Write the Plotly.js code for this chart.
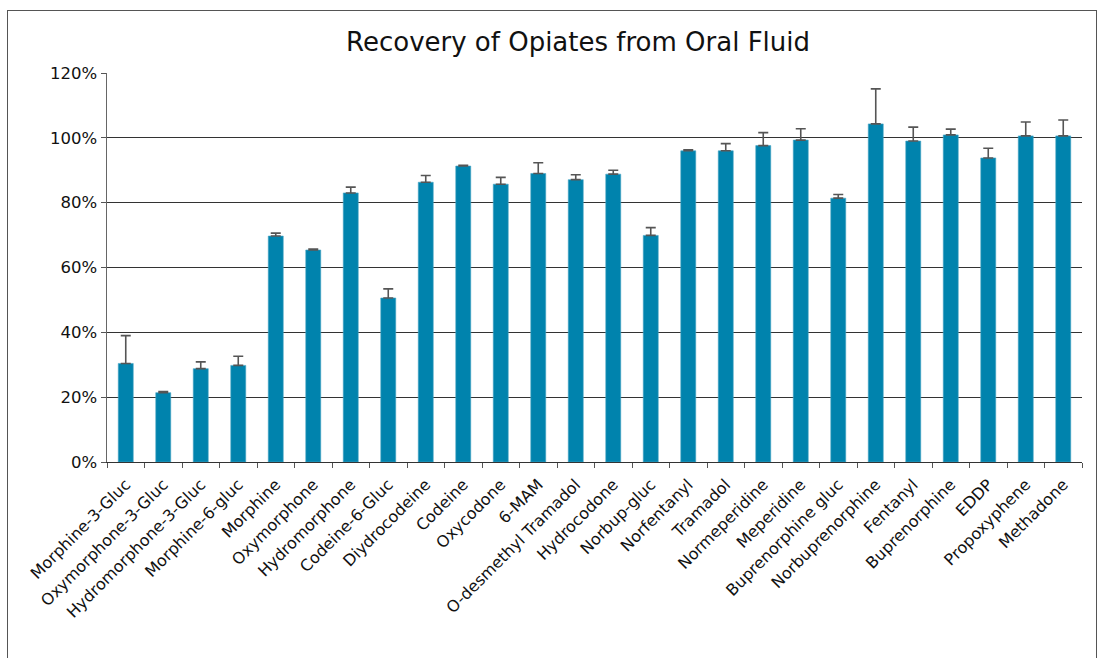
<!DOCTYPE html>
<html>
<head>
<meta charset="utf-8">
<script src="https://cdn.plot.ly/plotly-3.0.1.min.js"></script>
<style>
  html, body { margin: 0; padding: 0; background: #fff; }
  #frame { position: absolute; left: 7px; top: 10px; width: 1090px; height: 660px; border: 1px solid #555; box-sizing: border-box; }
  #chart { position: absolute; left: 0; top: 0; width: 1100px; height: 658px; }
</style>
</head>
<body>
<div id="frame"></div>
<div id="chart"></div>
<script>
const categories = [
  "Morphine-3-Gluc", "Oxymorphone-3-Gluc", "Hydromorphone-3-Gluc", "Morphine-6-gluc",
  "Morphine", "Oxymorphone", "Hydromorphone", "Codeine-6-Gluc", "Diydrocodeine",
  "Codeine", "Oxycodone", "6-MAM", "O-desmethyl Tramadol", "Hydrocodone",
  "Norbup-gluc", "Norfentanyl", "Tramadol", "Normeperidine", "Meperidine",
  "Buprenorphine gluc", "Norbuprenorphine", "Fentanyl", "Buprenorphine", "EDDP",
  "Propoxyphene", "Methadone"
];
const recovery = [
  30.4, 21.4, 28.8, 29.8, 69.7, 65.4, 83.0, 50.6, 86.3,
  91.3, 85.7, 89.0, 87.1, 88.8, 69.9, 96.0, 96.0, 97.6, 99.3,
  81.4, 104.3, 99.0, 100.9, 93.8, 100.6, 100.6
];
const errorPlus = [
  8.6, 0.3, 2.1, 2.8, 0.9, 0.3, 1.8, 2.8, 2.1,
  0.2, 2.1, 3.3, 1.5, 1.2, 2.4, 0.3, 2.2, 4.0, 3.5,
  1.1, 10.8, 4.3, 1.8, 3.0, 4.3, 4.9
];
const yTickVals = [0, 20, 40, 60, 80, 100, 120];
const yTickText = ["0%", "20%", "40%", "60%", "80%", "100%", "120%"];

const trace = {
  type: "bar",
  x: categories,
  y: recovery,
  marker: { color: "#0083ad", line: { color: "#4aa6c6", width: 0.6 } },
  width: 0.4,
  error_y: { type: "data", array: errorPlus, symmetric: false, arrayminus: errorPlus.map(() => 0),
             visible: true, color: "#555", thickness: 1.6, width: 5 },
  hoverinfo: "x+y"
};

const layout = {
  width: 1100, height: 658,
  margin: { l: 107, r: 18, t: 73, b: 196, pad: 0 },
  paper_bgcolor: "rgba(0,0,0,0)", plot_bgcolor: "#fff",
  font: { family: "DejaVu Sans, Verdana, sans-serif", color: "#111", size: 16.5 },
  title: { text: "Recovery of Opiates from Oral Fluid", font: { size: 26, color: "#111" },
           xref: "container", x: 0.5255, xanchor: "center", yref: "container", y: 0.936, yanchor: "middle" },
  showlegend: false,
  bargap: 0.6,
  xaxis: {
    type: "category", tickangle: -45, ticks: "outside", tickson: "boundaries", ticklen: 5,
    tickcolor: "#555", showline: true, linecolor: "#333", linewidth: 1, showgrid: false,
    tickfont: { size: 16 }, automargin: false, ticklabelstandoff: 6
  },
  yaxis: {
    range: [0, 120], tickvals: yTickVals, ticktext: yTickText, ticks: "outside", ticklen: 5,
    tickcolor: "#555", showline: true, linecolor: "#666", linewidth: 1.5,
    showgrid: true, gridcolor: "#333", gridwidth: 1, zeroline: false, automargin: false,
    tickfont: { size: 16.5 }
  }
};

Plotly.newPlot("chart", [trace], layout, { displayModeBar: false, staticPlot: true });
</script>
</body>
</html>
